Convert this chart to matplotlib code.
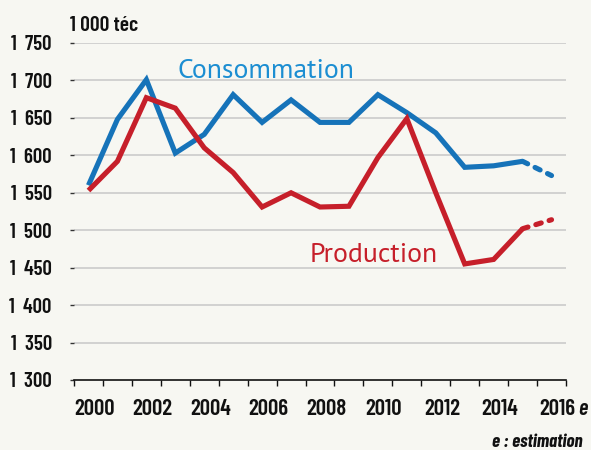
import matplotlib
matplotlib.use("Agg")
import matplotlib.pyplot as plt
from matplotlib import font_manager
from matplotlib.transforms import ScaledTranslation

years = list(range(2000, 2017))
consommation = [1560, 1648, 1701, 1603, 1628, 1681, 1644, 1674, 1644, 1644,
                1681, 1657, 1630, 1584, 1586, 1592, 1573]
production = [1553, 1592, 1677, 1663, 1610, 1577, 1531, 1550, 1531, 1532,
              1597, 1649, 1550, 1455, 1461, 1502, 1514]
y_ticks = list(range(1300, 1751, 50))
x_labels = [str(y) for y in years[::2]]


def pick(cands):
    have = set(f.name for f in font_manager.fontManager.ttflist)
    for c in cands:
        if c in have:
            return c
    return 'DejaVu Sans'


NARROW = pick(['Barlow Condensed', 'Roboto Condensed', 'Archivo Narrow',
               'PT Sans Narrow', 'Oswald', 'Liberation Sans Narrow'])
LABEL = pick(['PT Sans', 'Open Sans'])
LABEL_SIZE = 20 if LABEL == 'PT Sans' else 17.8

BG = '#f7f7f2'
BLUE = '#1673b9'
BLUE_TXT = '#1c8ed2'
RED = '#c61f2a'
INK = '#111111'

fig = plt.figure(figsize=(5.91, 4.5), dpi=100, facecolor=BG)
ax = fig.add_axes([74 / 591, 1 - 380 / 450, (566 - 74) / 591, (380 - 43) / 450])
ax.set_facecolor(BG)

idx = list(range(len(years)))
last = len(years) - 2  # 2016 is an estimate, drawn dashed
for vals, col in [(consommation, BLUE), (production, RED)]:
    ax.plot(idx[:last + 1], vals[:last + 1], color=col, lw=3.7,
            solid_joinstyle='miter', solid_capstyle='butt', zorder=3)
    ax.plot(idx[last:], vals[last:], color=col, lw=3.7,
            linestyle=(0, (1.1, 1.6)), dash_capstyle='round', zorder=3)

ax.set_xlim(-0.5, len(years) - 0.5)
ax.set_ylim(1300, 1750)

for s in ['left', 'top', 'right']:
    ax.spines[s].set_visible(False)
ax.spines['bottom'].set_color(INK)
ax.spines['bottom'].set_linewidth(1.2)

ax.set_yticks(y_ticks)
ax.set_yticklabels(['{:,}'.format(v).replace(',', '  ') for v in y_ticks],
                   family=NARROW, fontsize=15, weight=600, color=INK)
ax.tick_params(axis='y', length=3, width=1, color='#333333', pad=13)
ax.grid(axis='y', color='#c8c8c8', lw=1.1, zorder=1)
ax.yaxis.get_gridlines()[0].set_visible(False)

ax.set_xticks([i - 0.5 for i in range(len(years) + 1)])
ax.set_xticklabels([])
ax.tick_params(axis='x', which='major', length=4, width=1, color=INK)
ax.set_xticks(idx[::2], minor=True)
ax.set_xticklabels(x_labels, minor=True, family=NARROW, fontsize=16.5,
                   weight=600, color=INK)
ax.tick_params(axis='x', which='minor', length=0, pad=14)
shift = ScaledTranslation(0.06, 0, fig.dpi_scale_trans)
for lab in ax.get_xticklabels(minor=True):
    lab.set_transform(lab.get_transform() + shift)

ax.annotate('e', xy=(idx[-1], 0), xycoords=('data', 'axes fraction'),
            xytext=(19, -14), textcoords='offset points', ha='left', va='top',
            family=NARROW, fontsize=16, style='italic', weight=600, color=INK)

fig.text(70 / 591, 1 - 16 / 450, '1 000 téc', family=NARROW, fontsize=15.5,
         weight=600, color=INK, ha='left', va='top')

ax.text(3.09, 1703, 'Consommation', color=BLUE_TXT, fontsize=LABEL_SIZE,
        family=LABEL, ha='left', va='baseline')
ax.text(7.64, 1457, 'Production', color=RED, fontsize=LABEL_SIZE,
        family=LABEL, ha='left', va='baseline')

fig.text(583 / 591, 1 - 447 / 450, 'e : estimation', family=NARROW, fontsize=13.5,
         style='italic', weight='bold', color=INK, ha='right', va='baseline')

fig.savefig('out.png', dpi=100, facecolor=BG)
